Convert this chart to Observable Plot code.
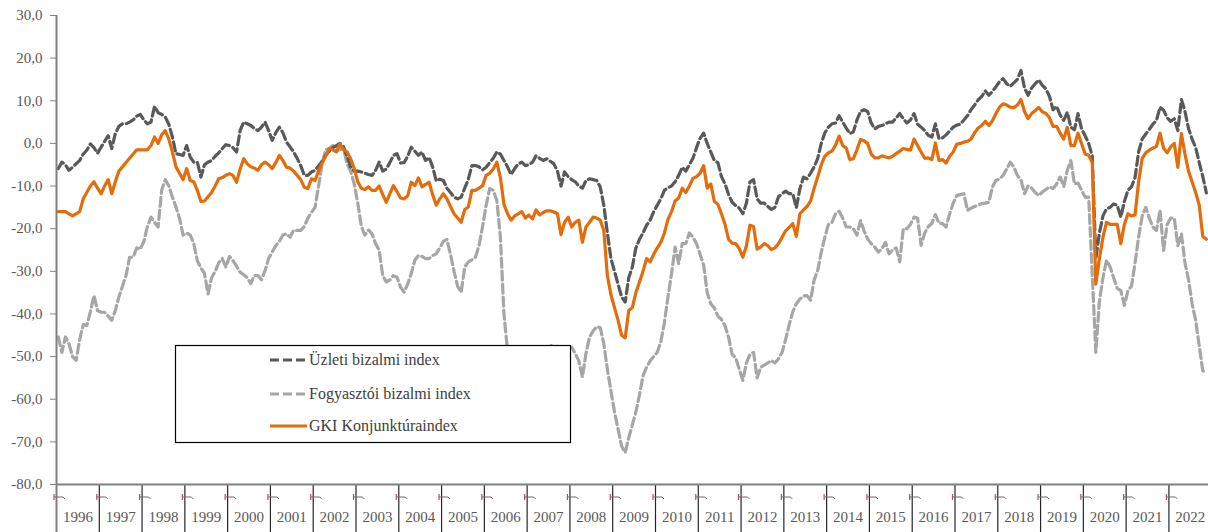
<!DOCTYPE html>
<html>
<head>
<meta charset="utf-8">
<script src="https://cdn.jsdelivr.net/npm/d3@7"></script>
<script src="https://cdn.jsdelivr.net/npm/@observablehq/plot@0.6"></script>
<style>
  html, body { margin: 0; padding: 0; background: #ffffff; }
  #chart { position: relative; width: 1208px; height: 532px; overflow: hidden; }
  #chart svg { display: block; }
</style>
</head>
<body>
<div id="chart"></div>
<script>
// ---- Data (monthly, Jan 1996 – Nov 2022) ----
const startYear = 1996;
const yearLabels = [1996,1997,1998,1999,2000,2001,2002,2003,2004,2005,2006,2007,2008,2009,2010,2011,2012,2013,2014,2015,2016,2017,2018,2019,2020,2021,2022];
const yTicks = [-80,-70,-60,-50,-40,-30,-20,-10,0,10,20,30];
const seriesNames = ["Üzleti bizalmi index", "Fogyasztói bizalmi index", "GKI Konjunktúraindex"];

const uzleti = [
  -5.9,-4.4,-5,-6.3,-5.6,-4.8,-4,-2.5,-1.6,-0.1,-1,-2.3,          // 1996
  -0.9,0.5,1.8,-1.2,2.3,4,4.6,4.6,5,5.5,6.4,6.8,                  // 1997
  5.5,4.6,5,8.7,7.2,6.8,6.2,4.5,1.5,-2.4,-2.6,-2.8,               // 1998
  -0.5,-3.2,-4.4,-4.4,-7.9,-5,-4.4,-4,-3,-2.2,-1.2,-0.3,          // 1999
  -0.5,-1,-2,3,5,4.6,4.2,3.5,3,3.8,5,3,                           // 2000
  0.7,2.5,3.8,2.5,0.3,-0.8,-2,-3.5,-5.2,-7.5,-7.5,-6.7,           // 2001
  -6.3,-5.3,-4.2,-2.8,-1.8,-1,-0.5,0,-0.8,-3,-5.6,-6.5,           // 2002
  -6.5,-6.7,-7,-7.3,-7.5,-6.3,-4.4,-6.5,-6,-4.5,-2.8,-2.4,        // 2003
  -4.6,-4.5,-3,-0.9,-1.8,-2.8,-2,-4,-3.3,-5.5,-8.8,-8.4,          // 2004
  -8.7,-10.5,-11.5,-12.6,-13,-12.6,-10.5,-8.4,-5.2,-5.2,-5.5,-6.2,// 2005
  -5.6,-4.5,-3.5,-2,-2.5,-4,-5.5,-7.3,-5.9,-4.8,-4.4,-5.2,        // 2006
  -5,-4.4,-2.9,-3.5,-4,-3.6,-4.2,-4.8,-6.5,-10,-6.7,-7.8,         // 2007
  -8.5,-9,-10,-10.5,-8.7,-8.3,-8.5,-8.7,-10.2,-14.5,-21,-27,      // 2008
  -30,-33,-36,-37.2,-31.5,-29,-24.5,-22.5,-21,-19.2,-18,-16,      // 2009
  -14.5,-13,-11,-10.4,-10,-9,-7.5,-5.6,-6.5,-5,-3.5,-1,           // 2010
  1.2,2.4,0,-2,-4,-4.5,-7.8,-9.5,-12,-13.8,-14.6,-15.2,           // 2011
  -16.5,-14,-9,-8.5,-13,-14,-14,-14.8,-15.5,-15,-12.5,-11.8,      // 2012
  -11.2,-11.8,-11.8,-15.1,-10.6,-7.9,-8.3,-7,-5.5,-3.5,0,2.5,     // 2013
  3.8,4.6,4.8,6.5,5,3.6,2.3,2.7,5.5,7.5,7.9,7.5,                  // 2014
  4.8,3.4,4,4.2,4.6,5,5,6,7,5.8,4.8,5.5,                          // 2015
  7,4.5,3.8,3,1.9,1.5,4.6,1.1,1.3,2,2.9,3.8,                      // 2016
  4.3,4.5,5.5,6.5,7.9,9,10.2,11,12.3,11.3,12.2,13.3,              // 2017
  14.5,15.2,14,13.4,14.2,15,17.1,13,11.3,13,14,14.9,              // 2018
  13.6,12.8,11,7.9,8.7,6.6,5.4,7.3,3.8,3.2,7,3.4,                 // 2019
  1.8,0,-3,-27,-21,-17,-15.3,-15,-14.2,-14.5,-17.3,-13.6,         // 2020
  -11,-10.2,-8,-2,1,2.2,3.3,4.5,5.4,8.5,7.8,6,                    // 2021
  5.2,5.8,3,10.3,7.5,3.5,1,-1,-4.5,-7.8,-11.6                     // 2022
];

const fogyasztoi = [
  -45.4,-49,-45.4,-47,-50,-50.9,-46,-42.5,-42.7,-39.5,-35.7,-39.2,     // 1996
  -39.6,-39.6,-40.5,-41.5,-39.2,-36,-33.5,-31,-26.7,-26.7,-24.5,-24.8, // 1997
  -23,-19.5,-17.3,-18.5,-19.6,-11,-8.5,-10,-12.6,-14.9,-17.5,-21.5,    // 1998
  -21,-21.5,-23.5,-27.5,-29.2,-30.5,-35.3,-31.5,-30,-28,-27,-29,       // 1999
  -26.5,-27.5,-28.8,-30.2,-30.8,-31.5,-32.9,-31,-31,-32,-29.8,-27,     // 2000
  -25.5,-24,-23,-21.5,-21.2,-22,-20.4,-20.4,-20.4,-19.5,-17.5,-16.2,   // 2001
  -15,-10,-4.8,-1.5,-1.2,-0.5,-1.8,-1.5,-1.2,-4.8,-6.5,-9.5,           // 2002
  -14,-19.5,-21.5,-20.3,-21.2,-23.5,-25.1,-31,-32.5,-32,-31,-31.4,     // 2003
  -33.7,-34.9,-33,-30.5,-27.4,-26.3,-26.5,-27,-27,-26.3,-25.9,-24.5,   // 2004
  -23,-22.5,-26,-30,-33.5,-34.9,-29,-27.8,-27.3,-26.7,-24,-19.5,       // 2005
  -14.5,-10.6,-11,-13.4,-22,-40,-48.6,-50.5,-52,-53,-52,-51,           // 2006
  -50,-51,-52,-50,-49,-48.5,-47.2,-48,-49,-50,-49,-48,                 // 2007
  -47.8,-49.3,-51,-54.8,-49.3,-45.4,-44,-43,-43.2,-47,-53,-58,         // 2008
  -63,-67,-71,-72.5,-69,-66,-63,-59,-54.5,-52.5,-51,-50,               // 2009
  -49,-46.5,-42,-36,-30.6,-24.3,-28.2,-23.5,-23.5,-21,-22,-23.5,       // 2010
  -26,-28.5,-35,-37.6,-38.6,-40.5,-41.3,-42.8,-45.5,-49.5,-50.3,-53,   // 2011
  -55.6,-51.5,-49.5,-49,-55,-52.5,-52,-51.5,-50.9,-51.5,-50.5,-49,     // 2012
  -46,-42.5,-39.5,-37.6,-36.5,-35.8,-35.7,-36.8,-32,-29.8,-25.5,-22,   // 2013
  -19,-18.5,-16.5,-15.9,-17.5,-19.6,-19.6,-20,-21.5,-18.1,-20.5,-22.4, // 2014
  -23.5,-24.3,-25.5,-24.7,-23.2,-25.9,-25,-24.5,-27.8,-20,-20,-19,     // 2015
  -17.3,-17.5,-23.9,-21,-19.5,-18.8,-16.7,-18.7,-18.8,-19.6,-16.5,-14, // 2016
  -12.2,-12,-11.8,-15.7,-15.2,-14.8,-14.5,-14.1,-14,-13.8,-10.2,-8.7,  // 2017
  -8.3,-7.5,-6,-4.4,-5.5,-7.5,-8.6,-11.8,-10,-10.5,-11.5,-12.2,        // 2018
  -11.4,-10.8,-10.2,-10.6,-9.5,-7.9,-10.1,-6.3,-4,-9.5,-9.3,-11,       // 2019
  -12.6,-12.6,-31,-49,-37,-31.5,-27.4,-29,-31.5,-34,-34.5,-38,         // 2020
  -34.5,-33.5,-28,-22,-17,-15,-17.5,-19.6,-20.4,-15.7,-25.1,-19,       // 2021
  -17.5,-17.5,-24,-21.2,-28,-32,-37.6,-41.5,-47.5,-53.3,-54            // 2022
];

const gki = [
  -16,-16,-16,-16.5,-17,-16.5,-16,-13,-11.5,-10,-9,-10.5,              // 1996
  -11.8,-10,-8.5,-11.8,-9,-6.5,-5.5,-4.5,-3.5,-2.5,-1.5,-1.5,          // 1997
  -1.5,-1.5,-0.5,1.5,0,2,3,1,-2,-5.5,-7,-8.5,                          // 1998
  -5.9,-8.7,-9,-11,-13.6,-13.5,-12.5,-11.5,-10,-8.3,-8,-7.5,           // 1999
  -7.1,-7.5,-9.1,-6,-3.6,-4.8,-5.5,-5.8,-6.3,-5,-4.4,-5,               // 2000
  -5.9,-4.5,-2.8,-4,-5.6,-5.8,-6.5,-7.5,-8.5,-10.3,-10.6,-8.3,         // 2001
  -8.7,-6.5,-4.6,-3,-1.2,-1.5,-2,-0.1,-1.5,-2,-3.6,-5.9,               // 2002
  -9,-10.5,-10.8,-10.2,-11,-11,-10,-12,-13.8,-11.8,-9.9,-11.3,         // 2003
  -12.8,-13,-12.3,-9.1,-9.9,-8.1,-10.2,-9.6,-9.1,-12,-14.5,-13,        // 2004
  -11.8,-13,-14.8,-16.5,-17.5,-18.5,-15.5,-14.9,-11,-11,-10.5,-9.9,    // 2005
  -7.5,-7,-6,-4.4,-8,-14.3,-16.5,-18,-17,-16.5,-16,-17.5,              // 2006
  -16.8,-17.7,-15.6,-16.8,-16.2,-15.8,-15.8,-16.1,-16.5,-21.4,-18.5,-17.3, // 2007
  -19.6,-18.5,-18,-23.2,-19.6,-18.5,-17.3,-17.5,-18,-20.4,-31,-35.5,   // 2008
  -38.5,-41.5,-45,-45.6,-39.2,-38.5,-35,-32.5,-30,-27,-27.8,-26,       // 2009
  -24.5,-23.2,-21,-17.8,-16,-13.5,-12.8,-10.5,-11.5,-10,-8.2,-7.8,     // 2010
  -7,-5.2,-10.5,-9.5,-13.6,-14.3,-16.5,-19,-22.5,-23.4,-23.5,-24.7,    // 2011
  -26.7,-24,-19.2,-19.5,-24.8,-24.3,-23.5,-24,-24.9,-24.5,-23.5,-22,   // 2012
  -20.5,-19.7,-18.8,-21.8,-16.5,-15.6,-14.8,-13.5,-10.5,-7.8,-5,-3,    // 2013
  -2.2,-1.8,-0.4,1.7,-0.5,-1.1,-3.8,-3.6,-1.5,0.9,0.6,0,               // 2014
  -2.5,-3.4,-3.4,-2.9,-3.2,-3.4,-3,-2.4,-1.8,-1.2,-1.4,-1.6,           // 2015
  1,-0.5,-2,-3.5,-3.4,-3.8,0.1,-4,-3.8,-4.6,-3,-2,                     // 2016
  -0.2,0,0.3,0.5,1,2.5,3.6,4.2,5.2,4.2,5.3,7,                          // 2017
  8.5,9.3,9,8.5,8.4,9,10.3,7.5,5.8,7,7.7,8.4,                          // 2018
  7.4,7,6,4,4,2.4,1,3.8,-0.5,-0.5,2.4,0,                               // 2019
  -2.5,-2.8,-4.5,-33,-27,-22,-18.5,-19,-19,-19,-23.5,-19,              // 2020
  -16.5,-17,-16.8,-9,-3.5,-2.2,-1.6,-1.1,-0.7,2.4,-1.1,-2.2,           // 2021
  -0.8,0,-5.6,2.3,-2.5,-6.5,-9,-11.5,-14.5,-21.8,-22.5                 // 2022
];

// ---- Build tables ----
const toRows = (arr, name) => arr.map((v, i) => ({t: startYear + (i + 0.5) / 12, v, name}));
const rowsU = toRows(uzleti, seriesNames[0]);
const rowsF = toRows(fogyasztoi, seriesNames[1]);
const rowsG = toRows(gki, seriesNames[2]);

// ---- Layout & styles ----
const W = 1208, H = 532;
const mL = 56, mT = 15, mB = 48, mR = 0;
const frameH = H - mT - mB;
const colors = {u: "#595959", f: "#a6a6a6", g: "#e46c0a"};
const axisGray = "#808080";
const textGray = "#595959";
const serif = "'Liberation Serif', 'DejaVu Serif', serif";
const boundaries = yearLabels.slice(1);
const dashPattern = "9,4";
const lineW = 3.2;

const plot = Plot.plot({
  width: W, height: H,
  marginLeft: mL, marginRight: mR, marginTop: mT, marginBottom: mB,
  style: {fontFamily: serif, background: "#ffffff", color: textGray, overflow: "visible"},
  x: {domain: [startYear, startYear + 323.1 / 12], axis: null},
  y: {domain: [-80, 30], axis: null},
  marks: [
    Plot.axisY(yTicks, {
      tickSize: 6, tickPadding: 8,
      tickFormat: d => d.toFixed(1).replace(".", ","),
      fontSize: 15, stroke: axisGray, fill: textGray, label: null
    }),
    // category separators under the axis
    Plot.ruleX(boundaries, {x: d => d, stroke: "#262626", strokeWidth: 1.2, insetTop: frameH, insetBottom: -mB}),
    // year labels
    Plot.text(yearLabels, {x: d => d + 0.5, frameAnchor: "bottom", dy: 37, text: d => String(d), fontSize: 15, fill: textGray}),
    // series
    Plot.line(rowsF, {x: "t", y: "v", stroke: colors.f, strokeWidth: lineW, strokeDasharray: dashPattern, strokeLinejoin: "round"}),
    Plot.line(rowsU, {x: "t", y: "v", stroke: colors.u, strokeWidth: lineW, strokeDasharray: dashPattern, strokeLinejoin: "round"}),
    Plot.line(rowsG, {x: "t", y: "v", stroke: colors.g, strokeWidth: lineW, strokeLinejoin: "round"}),
    // axis lines
    Plot.ruleY([-80], {stroke: axisGray, strokeWidth: 2}),
    Plot.ruleX([startYear], {stroke: axisGray, strokeWidth: 2, insetBottom: -mB})
  ]
});

document.getElementById("chart").appendChild(plot);

// ---- Small month-tick glyphs under each year start (from the x scale) ----
const xs = plot.scale("x");
const svg = d3.select(plot);
const glyphs = svg.append("g").attr("fill", "none");
yearLabels.forEach(yr => {
  const xb = xs.apply(yr);
  glyphs.append("path").attr("d", `M${xb - 2},494V500`).attr("stroke", "#b5505a").attr("stroke-width", 1.2);
  glyphs.append("path").attr("d", `M${xb - 2},497H${xb + 7}L${xb + 9},499`).attr("stroke", "#6b6b6b").attr("stroke-width", 1);
});

// ---- Legend (in-chart box) ----
const lg = svg.append("g").attr("text-anchor", "start");
lg.append("rect").attr("x", 175.5).attr("y", 345.5).attr("width", 395).attr("height", 97)
  .attr("fill", "#ffffff").attr("stroke", "#000000").attr("stroke-width", 1.2);
const legendItems = [
  {name: seriesNames[0], color: colors.u, dash: dashPattern, y: 360},
  {name: seriesNames[1], color: colors.f, dash: dashPattern, y: 394},
  {name: seriesNames[2], color: colors.g, dash: null, y: 426}
];
legendItems.forEach(it => {
  const l = lg.append("line").attr("x1", 270).attr("x2", 307).attr("y1", it.y).attr("y2", it.y)
    .attr("stroke", it.color).attr("stroke-width", lineW);
  if (it.dash) l.attr("stroke-dasharray", it.dash);
  lg.append("text").attr("x", 309).attr("y", it.y + 5).attr("font-size", 16)
    .attr("text-anchor", "start").attr("font-family", serif).attr("fill", "#404040").text(it.name);
});
</script>
</body>
</html>
